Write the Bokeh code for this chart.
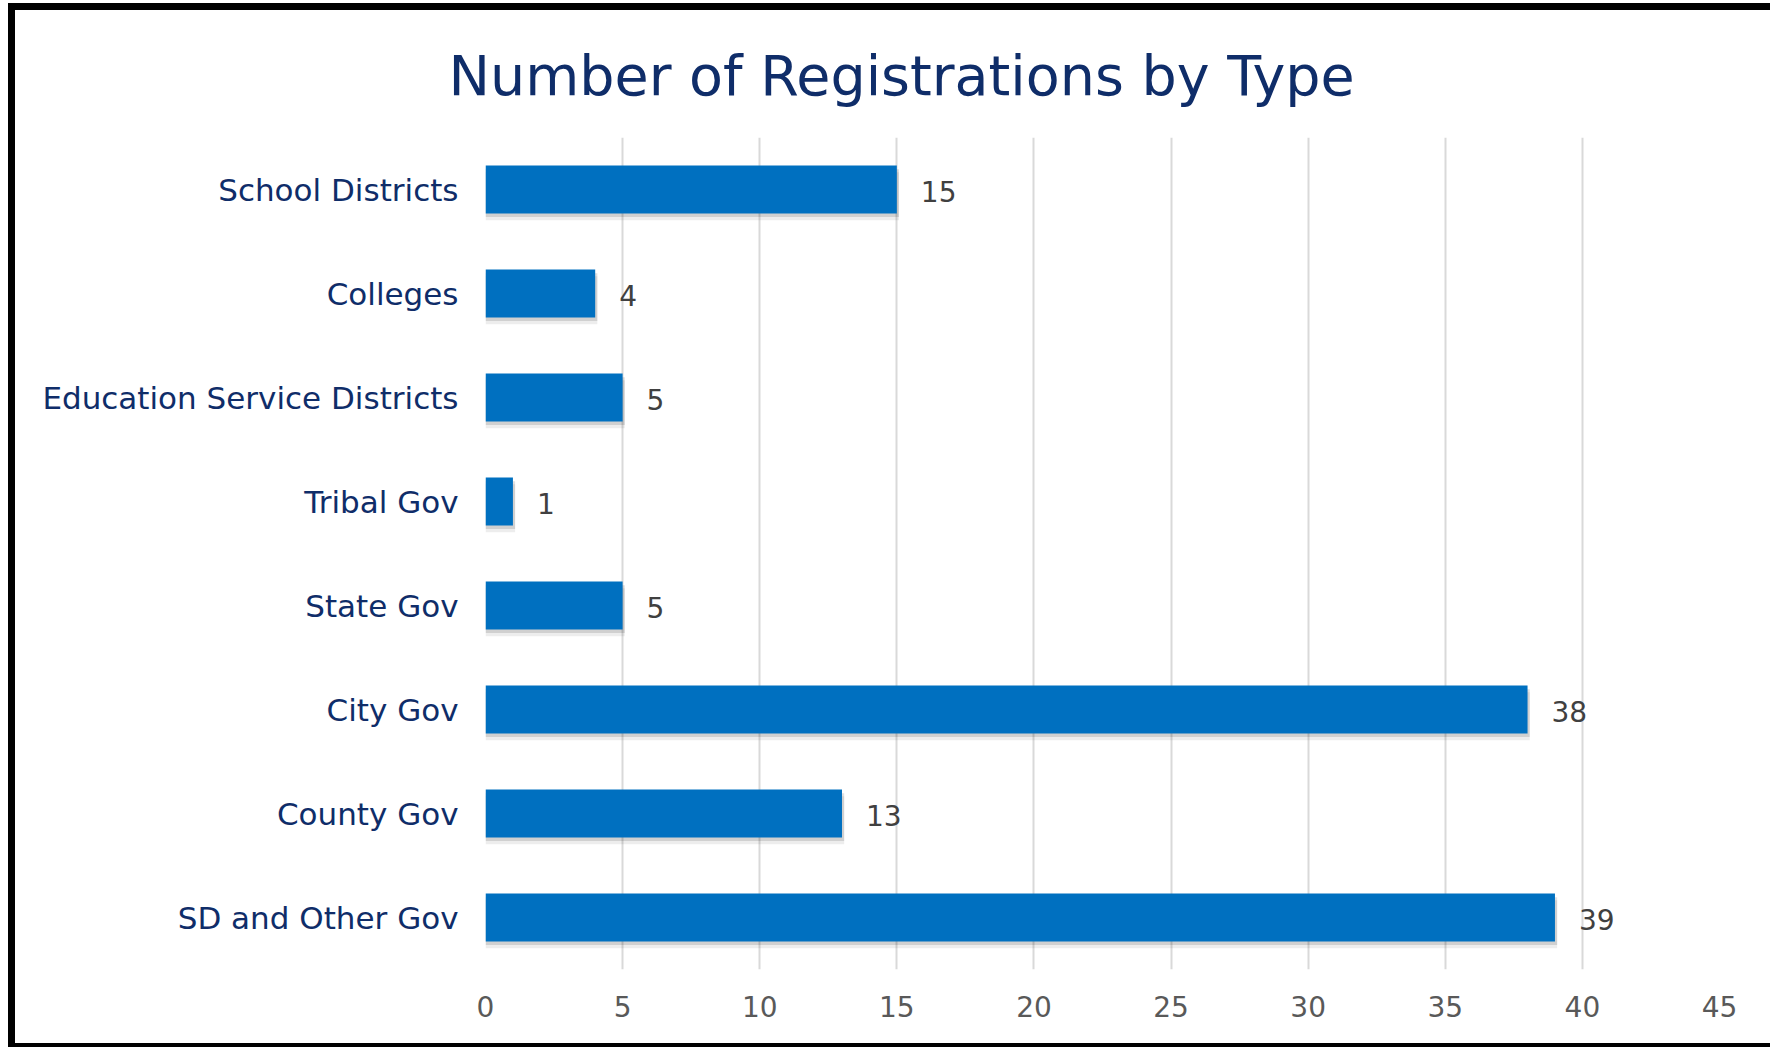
from bokeh.plotting import figure
from bokeh.models import ColumnDataSource, FactorRange, Range1d, FixedTicker, Title
from bokeh.transform import dodge
from bokeh.core.properties import value
from bokeh.embed import file_html
from bokeh.resources import INLINE

categories = ["School Districts", "Colleges", "Education Service Districts", "Tribal Gov",
              "State Gov", "City Gov", "County Gov", "SD and Other Gov"]
counts = [15, 4, 5, 1, 5, 38, 13, 39]
x_ticks = [0, 5, 10, 15, 20, 25, 30, 35, 40, 45]
title_text = "Number of Registrations by Type"

FONT = "DejaVu Sans"
NAVY = "#0f2d69"
BAR = "#0070C0"

src = ColumnDataSource(dict(cat=categories, val=counts,
                            lab=[str(v) for v in counts],
                            shadow=[v + 0.08 for v in counts]))

p = figure(width=1762, height=1044, output_backend="svg", toolbar_location=None,
           y_range=FactorRange(factors=list(reversed(categories))),
           x_range=Range1d(0, 45),
           min_border_left=470, min_border_right=58, min_border_top=127, min_border_bottom=85,
           title=None,
           styles={"margin-left": "8px", "margin-top": "3px",
                   "border-left": "7px solid black", "border-top": "7px solid black",
                   "border-bottom": "4px solid black"})
p.outline_line_color = None
p.background_fill_color = "white"
p.border_fill_color = "white"

t = Title(text=title_text, align="left", offset=-37, standoff=59,
          text_font=FONT, text_font_size="55.5px", text_font_style="normal", text_color=NAVY)
p.add_layout(t, "above")

# shadows
p.hbar(y=dodge("cat", -0.065, range=p.y_range), left=0, right="shadow", height=0.46,
       source=src, fill_color="black", fill_alpha=0.07, line_color=None)
p.hbar(y=dodge("cat", -0.035, range=p.y_range), left=0, right="shadow", height=0.46,
       source=src, fill_color="black", fill_alpha=0.12, line_color=None)
p.hbar(y="cat", left=0, right="val", height=0.46, source=src,
       fill_color=BAR, line_color=None)

p.text(x="val", y="cat", text="lab", source=src, x_offset=24, y_offset=2,
       text_font=value(FONT), text_font_size="28px", text_color="#404040",
       text_baseline="middle", text_align="left")

p.xaxis.ticker = FixedTicker(ticks=x_ticks)
p.xaxis.axis_line_color = None
p.xaxis.major_tick_line_color = None
p.xaxis.minor_tick_line_color = None
p.xaxis.major_label_text_font = FONT
p.xaxis.major_label_text_font_size = "28px"
p.xaxis.major_label_text_color = "#595959"
p.xaxis.major_label_standoff = 20

p.yaxis.axis_line_color = None
p.yaxis.major_tick_line_color = None
p.yaxis.major_label_text_font = FONT
p.yaxis.major_label_text_font_size = "31px"
p.yaxis.major_label_text_color = NAVY
p.yaxis.major_label_standoff = 21

p.xgrid.ticker = FixedTicker(ticks=x_ticks)
p.xgrid.grid_line_color = "#d9d9d9"
p.xgrid.grid_line_width = 2
p.ygrid.grid_line_color = None

open("out.html", "w").write(file_html(p, INLINE))
